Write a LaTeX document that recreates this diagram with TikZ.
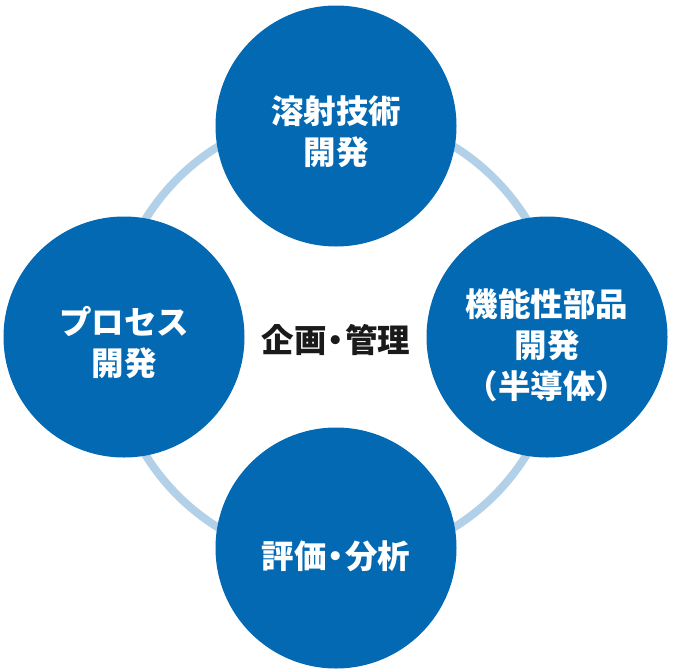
\documentclass[tikz,border=0pt]{standalone}
\usepackage{fontspec}
\newfontfamily\cjk{Noto Sans CJK JP}
\usepackage{tikz}
\usetikzlibrary{positioning}
\definecolor{petalblue}{HTML}{0369B2}
\definecolor{ringblue}{HTML}{B2D1E8}
\definecolor{hubtext}{HTML}{1A1A1A}
\tikzset{
  petal/.style={circle, fill=petalblue, draw=none, minimum size=241pt, inner sep=0pt},
  petaltext/.style={text=white, align=center, inner sep=0pt,
                    font=\cjk\bfseries\fontsize{32.5}{41}\selectfont},
  hubtext/.style={petaltext, text=hubtext},
  ring/.style={draw=ringblue, line width=8pt},
}
\newcommand{\middot}{\hspace{-0.22em}・\hspace{-0.22em}}

\begin{document}
\begin{tikzpicture}[x=1pt, y=-1pt]
  \useasboundingbox (0,0) rectangle (672,672);
  \coordinate (hub) at (336,337);
  \draw[ring] (hub) circle[radius=224pt];

  \node[petal] (weld) at (336,126) {};
  \node[petal] (func) at (547,337) {};
  \node[petal] (eval) at (336,548) {};
  \node[petal] (proc) at (124,337) {};

  \node[petaltext, below=6pt of weld.center, anchor=center] (weldlbl) {溶射技術\\開発};
  \node[petaltext, below=8pt of func.center, anchor=center] (funclbl) {機能性部品\\開発\\（半導体）};
  \node[petaltext, below=8pt of eval.center, anchor=center] (evallbl) {評価\middot 分析};
  \node[petaltext, below=6pt of proc.center, anchor=center] (proclbl) {プロセス\\開発};
  \node[hubtext, below=3pt of hub, anchor=center] (hublbl) {企画\middot 管理};
\end{tikzpicture}
\end{document}
